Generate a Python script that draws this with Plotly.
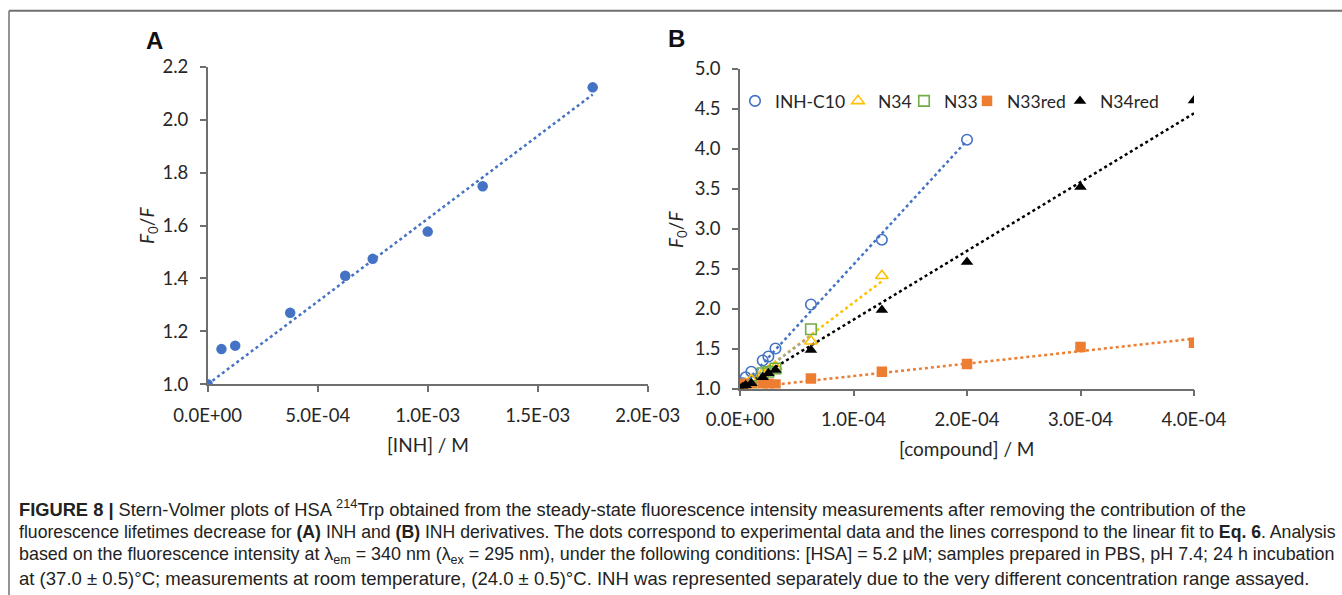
import numpy as np
import plotly.graph_objects as go

W, H = 1342, 595

# ---------------- data ----------------
# Panel A: INH
inh_x = [0.0, 6.25e-5, 1.25e-4, 3.75e-4, 6.25e-4, 7.5e-4, 1.0e-3, 1.25e-3, 1.75e-3]
inh_y = [1.00, 1.133, 1.146, 1.270, 1.410, 1.474, 1.577, 1.748, 2.122]

# Panel B: INH derivatives
c10_x = [0.0, 2.5e-6, 5e-6, 1e-5, 2e-5, 2.5e-5, 3.125e-5, 6.25e-5, 1.25e-4, 2.0e-4]
c10_y = [1.00, 1.065, 1.14, 1.21, 1.35, 1.40, 1.50, 2.05, 2.86, 4.11]

n34_x = [0.0, 2.5e-6, 5e-6, 1e-5, 2e-5, 2.5e-5, 3.125e-5, 6.25e-5, 1.25e-4]
n34_y = [1.00, 1.03, 1.06, 1.11, 1.19, 1.22, 1.27, 1.59, 2.41]

n33_x = [0.0, 2.5e-6, 5e-6, 1e-5, 2e-5, 2.5e-5, 3.125e-5, 6.25e-5]
n33_y = [1.00, 1.02, 1.03, 1.03, 1.19, 1.21, 1.25, 1.74]

n33red_x = [0.0, 2.5e-6, 5e-6, 1e-5, 2e-5, 2.5e-5, 3.125e-5, 6.25e-5, 1.25e-4, 2.0e-4, 3.0e-4, 4.0e-4]
n33red_y = [1.00, 1.06, 1.03, 1.02, 1.05, 1.06, 1.05, 1.126, 1.21, 1.305, 1.52, 1.573]

n34red_x = [0.0, 2.5e-6, 5e-6, 1e-5, 2e-5, 2.5e-5, 3.125e-5, 6.25e-5, 1.25e-4, 2.0e-4, 3.0e-4, 4.0e-4]
n34red_y = [1.00, 1.02, 1.04, 1.065, 1.14, 1.19, 1.23, 1.48, 1.98, 2.58, 3.52, 4.60]

a_xticks = [0.0, 5e-4, 1.0e-3, 1.5e-3, 2.0e-3]
a_xticklabels = ["0.0E+00", "5.0E-04", "1.0E-03", "1.5E-03", "2.0E-03"]
b_xticks = [0.0, 1e-4, 2e-4, 3e-4, 4e-4]
b_xticklabels = ["0.0E+00", "1.0E-04", "2.0E-04", "3.0E-04", "4.0E-04"]

caption_lines = [
    "<b>FIGURE 8 |</b> Stern-Volmer plots of HSA <sup>214</sup>Trp obtained from the steady-state fluorescence intensity measurements after removing the contribution of the",
    "fluorescence lifetimes decrease for <b>(A)</b> INH and <b>(B)</b> INH derivatives. The dots correspond to experimental data and the lines correspond to the linear fit to <b>Eq. 6</b>. Analysis",
    "based on the fluorescence intensity at λ<sub>em</sub> = 340 nm (λ<sub>ex</sub> = 295 nm), under the following conditions: [HSA] = 5.2 μM; samples prepared in PBS, pH 7.4; 24 h incubation",
    "at (37.0 ± 0.5)°C; measurements at room temperature, (24.0 ± 0.5)°C. INH was represented separately due to the very different concentration range assayed.",
]

# ---------------- helpers ----------------
def px_x(p):
    return p / W

def px_y(p):
    return 1 - p / H

def sv_fit(x, y):
    """Stern-Volmer linear fit F0/F = 1 + K[Q]."""
    x = np.asarray(x); y = np.asarray(y)
    k = np.sum(x * (y - 1)) / np.sum(x * x)
    xs = np.array([0.0, x.max()])
    return xs, 1 + k * xs

TXT = "#262626"
AX = "#6e6e6e"
FONT = "Lato, Carlito, Calibri, 'Open Sans', sans-serif"
CAPFONT = "'Liberation Sans', Arial, Helvetica, sans-serif"

fig = go.Figure()

# ---- Panel A ----
fx, fy = sv_fit(inh_x, inh_y)
fig.add_trace(go.Scatter(x=fx, y=fy, mode="lines", line=dict(color="#4472C4", width=2.5, dash="dot"),
                         xaxis="x", yaxis="y", showlegend=False, hoverinfo="skip"))
fig.add_trace(go.Scatter(x=inh_x, y=inh_y, mode="markers", marker=dict(color="#4472C4", size=10.5),
                         xaxis="x", yaxis="y", showlegend=False, name="INH"))

# ---- Panel B ----
series = [
    ("INH-C10", c10_x, c10_y, "#4472C4", "#4472C4", dict(symbol="circle-open", size=10.5, line=dict(width=1.6))),
    ("N34", n34_x, n34_y, "#FFC000", "#FFC000", dict(symbol="triangle-up-open", size=11, line=dict(width=1.6))),
    ("N33", n33_x, n33_y, "#70AD47", "#A5A5A5", dict(symbol="square-open", size=10.5, line=dict(width=1.6))),
    ("N33red", n33red_x, n33red_y, "#ED7D31", "#ED7D31", dict(symbol="square", size=10.5)),
    ("N34red", n34red_x, n34red_y, "#000000", "#000000", dict(symbol="triangle-up", size=11)),
]
legend_ids = ["legend", "legend2", "legend3", "legend4", "legend5"]
legend_px = [735, 838, 904, 967, 1060]

for name, x, y, mc, lc, mk in series:
    fx, fy = sv_fit(x, y)
    fig.add_trace(go.Scatter(x=fx, y=fy, mode="lines", line=dict(color=lc, width=2.5, dash="dot"),
                             xaxis="x2", yaxis="y2", showlegend=False, hoverinfo="skip"))
for (name, x, y, mc, lc, mk), lid in zip(series, legend_ids):
    m = dict(mk); m["color"] = mc
    fig.add_trace(go.Scatter(x=x, y=y, mode="markers", marker=m, name=name,
                             xaxis="x2", yaxis="y2", showlegend=True, legend=lid))

axis_common = dict(showline=True, linecolor=AX, linewidth=1.5, ticks="outside", tickcolor=AX,
                   ticklen=6, tickwidth=1.5, showgrid=False, zeroline=False, automargin=False,
                   tickfont=dict(family=FONT, size=18.5, color=TXT))

fig.update_layout(
    width=W, height=H, autosize=False,
    margin=dict(l=0, r=0, t=0, b=0, pad=0, autoexpand=False),
    paper_bgcolor="white", plot_bgcolor="white",
    xaxis=dict(domain=[px_x(207.7), px_x(647.7)], range=[0, 2.0e-3], anchor="y",
               tickvals=a_xticks, ticktext=a_xticklabels, ticklabelstandoff=8, **axis_common),
    yaxis=dict(domain=[px_y(384.3), px_y(66.7)], range=[1.0, 2.2], anchor="x",
               dtick=0.2, tick0=1.0, tickformat=".1f", ticklabelstandoff=8, **axis_common),
    xaxis2=dict(domain=[px_x(740), px_x(1194)], range=[0, 4.0e-4], anchor="y2",
                tickvals=b_xticks, ticktext=b_xticklabels, ticklabelstandoff=8, **axis_common),
    yaxis2=dict(domain=[px_y(388.5), px_y(68.5)], range=[1.0, 5.0], anchor="x2",
                dtick=0.5, tick0=1.0, tickformat=".1f", ticklabelstandoff=8, **axis_common),
    showlegend=True,
)
for lid, lx in zip(legend_ids, legend_px):
    fig.update_layout({lid: dict(orientation="h", x=px_x(lx), y=px_y(101), xanchor="left", yanchor="middle",
                                 font=dict(family=FONT, size=17.5, color=TXT), bgcolor="rgba(0,0,0,0)",
                                 itemwidth=30, tracegroupgap=0)})

ann = []
def add_text(text, x, y, size, family=FONT, angle=0, color=TXT, xanchor="center"):
    ann.append(dict(text=text, x=px_x(x), y=px_y(y), xref="paper", yref="paper", showarrow=False,
                    xanchor=xanchor, yanchor="middle", textangle=angle,
                    font=dict(family=family, size=size, color=color)))

# panel letters
add_text("<b>A</b>", 154, 41, 24, family="Arial, 'Liberation Sans', sans-serif", color="#111")
add_text("<b>B</b>", 676, 38, 24, family="Arial, 'Liberation Sans', sans-serif", color="#111")
# axis titles
add_text("[INH] / M", 428, 444, 19)
add_text("[compound] / M", 967, 448, 19)
add_text("<i>F</i><sub>0</sub>/<i>F</i>", 148, 226, 19, angle=-90)
add_text("<i>F</i><sub>0</sub>/<i>F</i>", 677, 230, 19, angle=-90)

# caption
cap_y = [508, 531.5, 555, 578.5]
cap_size = [18.3, 17.65, 17.9, 18.55]
for line, yy, sz in zip(caption_lines, cap_y, cap_size):
    ann.append(dict(text=line, x=px_x(17), y=px_y(yy), xref="paper", yref="paper", showarrow=False,
                    xanchor="left", yanchor="middle", align="left",
                    font=dict(family=CAPFONT, size=sz, color="#222")))
fig.update_layout(annotations=ann)

# frame lines
fig.add_shape(type="line", xref="paper", yref="paper", x0=px_x(9), x1=1, y0=px_y(10.7), y1=px_y(10.7),
              line=dict(color="#707070", width=2))
fig.add_shape(type="line", xref="paper", yref="paper", x0=px_x(9), x1=px_x(9), y0=px_y(10.7), y1=0,
              line=dict(color="#707070", width=1.5))

fig.write_html("out.html")
